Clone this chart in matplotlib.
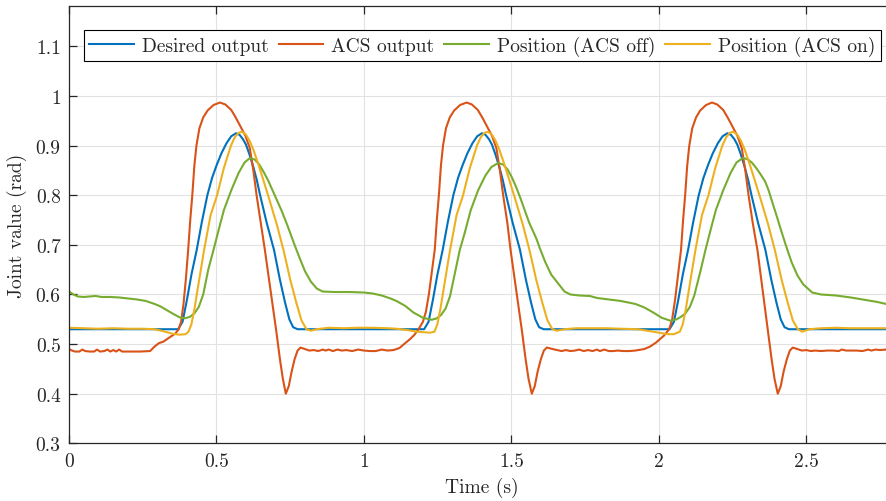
import numpy as np
import matplotlib
matplotlib.use('Agg')
import matplotlib.pyplot as plt

## values (time in s, joint value in rad)
t_desired = [0.0, 0.37, 0.385, 0.40, 0.415, 0.433, 0.45, 0.469, 0.485, 0.50, 0.517, 0.534, 0.55, 0.566, 0.578, 0.59, 0.60, 0.612, 0.625, 0.637, 0.648, 0.67, 0.695, 0.715, 0.732, 0.747, 0.76, 0.775,
             1.204, 1.219, 1.234, 1.249, 1.267, 1.284, 1.303, 1.319, 1.334, 1.351, 1.368, 1.384, 1.40, 1.412, 1.424, 1.434, 1.446, 1.459, 1.471, 1.482, 1.504, 1.529, 1.549, 1.566, 1.581, 1.594, 1.609,
             2.036, 2.051, 2.066, 2.081, 2.099, 2.116, 2.135, 2.151, 2.166, 2.183, 2.20, 2.216, 2.232, 2.244, 2.256, 2.266, 2.278, 2.291, 2.303, 2.314, 2.336, 2.361, 2.381, 2.398, 2.413, 2.426, 2.441, 2.77]
y_desired = [0.530, 0.530, 0.545, 0.59, 0.64, 0.69, 0.745, 0.80, 0.835, 0.86, 0.885, 0.905, 0.919, 0.925, 0.922, 0.913, 0.902, 0.882, 0.857, 0.83, 0.80, 0.745, 0.69, 0.63, 0.585, 0.55, 0.534, 0.530,
             0.530, 0.545, 0.59, 0.64, 0.69, 0.745, 0.80, 0.835, 0.86, 0.885, 0.905, 0.919, 0.925, 0.922, 0.913, 0.902, 0.882, 0.857, 0.83, 0.80, 0.745, 0.69, 0.63, 0.585, 0.55, 0.534, 0.530,
             0.530, 0.545, 0.59, 0.64, 0.69, 0.745, 0.80, 0.835, 0.86, 0.885, 0.905, 0.919, 0.925, 0.922, 0.913, 0.902, 0.882, 0.857, 0.83, 0.80, 0.745, 0.69, 0.63, 0.585, 0.55, 0.534, 0.530, 0.530]

t_acs = [0.0, 0.01, 0.02, 0.035, 0.045, 0.055, 0.07, 0.085, 0.095, 0.105, 0.12, 0.13, 0.14, 0.15, 0.16, 0.17, 0.18, 0.20, 0.24, 0.275,
         0.29, 0.305, 0.32, 0.342, 0.36, 0.372, 0.38, 0.388, 0.396, 0.404, 0.411, 0.418, 0.425, 0.432, 0.442, 0.455, 0.47, 0.49, 0.512,
         0.53, 0.55, 0.565, 0.58, 0.598, 0.613, 0.625, 0.636, 0.65, 0.664, 0.677, 0.69, 0.703, 0.715, 0.725, 0.735, 0.745, 0.755, 0.765, 0.775, 0.785,
         0.80, 0.815, 0.83, 0.845, 0.86, 0.87, 0.88, 0.895, 0.91, 0.925, 0.94, 0.96, 0.98, 1.00, 1.02, 1.04, 1.06, 1.08, 1.10,
         1.12, 1.14, 1.156, 1.17, 1.185, 1.20, 1.21, 1.22, 1.23, 1.24, 1.247, 1.254, 1.261, 1.268, 1.278, 1.291, 1.306, 1.326, 1.348,
         1.366, 1.386, 1.401, 1.416, 1.434, 1.449, 1.461, 1.472, 1.486, 1.497, 1.51, 1.523, 1.536, 1.548, 1.558, 1.569, 1.579, 1.589, 1.60, 1.61, 1.62,
         1.64, 1.655, 1.67, 1.685, 1.70, 1.715, 1.73, 1.745, 1.76, 1.775, 1.79, 1.80, 1.815, 1.83, 1.845, 1.86, 1.88, 1.90, 1.92,
         1.95, 1.97, 1.99, 2.017, 2.035, 2.045, 2.055, 2.065, 2.075, 2.082, 2.089, 2.096, 2.103, 2.113, 2.126, 2.14, 2.16, 2.18,
         2.198, 2.218, 2.233, 2.248, 2.266, 2.281, 2.293, 2.304, 2.318, 2.334, 2.346, 2.358, 2.37, 2.382, 2.392, 2.403, 2.413, 2.423, 2.434, 2.444, 2.454,
         2.47, 2.485, 2.50, 2.515, 2.53, 2.55, 2.57, 2.59, 2.61, 2.62, 2.635, 2.65, 2.67, 2.69, 2.71, 2.72, 2.735, 2.75, 2.77]
y_acs = [0.490, 0.487, 0.485, 0.485, 0.489, 0.486, 0.485, 0.485, 0.489, 0.485, 0.486, 0.489, 0.485, 0.488, 0.485, 0.489, 0.485, 0.485, 0.485, 0.486,
         0.495, 0.502, 0.505, 0.514, 0.521, 0.530, 0.545, 0.58, 0.63, 0.69, 0.75, 0.80, 0.86, 0.90, 0.935, 0.957, 0.971, 0.982, 0.987,
         0.983, 0.972, 0.957, 0.94, 0.92, 0.895, 0.85, 0.80, 0.745, 0.69, 0.635, 0.58, 0.525, 0.47, 0.43, 0.40, 0.415, 0.445, 0.47, 0.487, 0.493,
         0.490, 0.487, 0.488, 0.486, 0.489, 0.487, 0.489, 0.486, 0.489, 0.487, 0.488, 0.486, 0.489, 0.487, 0.486, 0.486, 0.489, 0.487, 0.488,
         0.492, 0.502, 0.510, 0.518, 0.530, 0.545, 0.565, 0.60, 0.645, 0.69, 0.75, 0.80, 0.86, 0.90, 0.935, 0.957, 0.971, 0.982, 0.987,
         0.983, 0.972, 0.957, 0.94, 0.92, 0.895, 0.85, 0.80, 0.745, 0.69, 0.635, 0.58, 0.525, 0.47, 0.43, 0.40, 0.415, 0.445, 0.47, 0.487, 0.493,
         0.490, 0.488, 0.486, 0.488, 0.486, 0.487, 0.489, 0.486, 0.488, 0.486, 0.489, 0.486, 0.489, 0.486, 0.486, 0.487, 0.486, 0.486, 0.487,
         0.490, 0.495, 0.503, 0.517, 0.530, 0.55, 0.59, 0.64, 0.69, 0.75, 0.80, 0.86, 0.90, 0.935, 0.957, 0.971, 0.982, 0.987,
         0.983, 0.972, 0.957, 0.94, 0.92, 0.895, 0.85, 0.80, 0.745, 0.69, 0.635, 0.58, 0.525, 0.47, 0.43, 0.40, 0.415, 0.445, 0.47, 0.487, 0.493,
         0.490, 0.487, 0.488, 0.486, 0.487, 0.486, 0.487, 0.487, 0.486, 0.489, 0.487, 0.487, 0.487, 0.486, 0.489, 0.487, 0.489, 0.488, 0.489]

t_off = [0.0, 0.015, 0.03, 0.05, 0.07, 0.09, 0.11, 0.14, 0.17, 0.20, 0.23, 0.26, 0.29, 0.31, 0.33, 0.353, 0.375, 0.393,
         0.41, 0.425, 0.44, 0.455, 0.472, 0.49, 0.505, 0.525, 0.55, 0.575, 0.595, 0.613, 0.63, 0.645, 0.66, 0.675, 0.69, 0.705, 0.72,
         0.74, 0.766, 0.783, 0.80, 0.82, 0.84, 0.86, 0.90, 0.95, 1.00, 1.03, 1.06, 1.09, 1.11, 1.14, 1.167, 1.20, 1.23,
         1.247, 1.262, 1.277, 1.292, 1.309, 1.325, 1.342, 1.362, 1.387, 1.412, 1.432, 1.455, 1.472, 1.487, 1.50, 1.515, 1.53, 1.545,
         1.56, 1.573, 1.585, 1.597, 1.615, 1.635, 1.664, 1.68, 1.70, 1.73, 1.766, 1.79, 1.83, 1.87, 1.92, 1.95, 1.98, 2.01, 2.04,
         2.06, 2.075, 2.09, 2.105, 2.12, 2.14, 2.158, 2.173, 2.193, 2.218, 2.243, 2.263, 2.284, 2.30, 2.315, 2.33, 2.345, 2.36,
         2.372, 2.385, 2.40, 2.415, 2.43, 2.45, 2.47, 2.49, 2.52, 2.55, 2.60, 2.65, 2.70, 2.74, 2.77]
y_off = [0.606, 0.600, 0.596, 0.595, 0.596, 0.597, 0.595, 0.595, 0.594, 0.592, 0.590, 0.587, 0.581, 0.576, 0.569, 0.561, 0.554, 0.552,
         0.555, 0.562, 0.575, 0.60, 0.65, 0.69, 0.725, 0.77, 0.81, 0.845, 0.866, 0.875, 0.872, 0.862, 0.847, 0.83, 0.81, 0.79, 0.77,
         0.74, 0.698, 0.672, 0.647, 0.626, 0.612, 0.606, 0.605, 0.605, 0.604, 0.602, 0.598, 0.592, 0.587, 0.577, 0.564, 0.553, 0.549,
         0.552, 0.559, 0.572, 0.597, 0.645, 0.69, 0.725, 0.77, 0.81, 0.84, 0.857, 0.865, 0.862, 0.852, 0.838, 0.818, 0.795, 0.77,
         0.745, 0.728, 0.712, 0.692, 0.665, 0.64, 0.618, 0.606, 0.600, 0.598, 0.597, 0.593, 0.590, 0.587, 0.581, 0.574, 0.564, 0.553, 0.547,
         0.550, 0.555, 0.562, 0.575, 0.598, 0.645, 0.69, 0.725, 0.77, 0.81, 0.845, 0.866, 0.875, 0.873, 0.866, 0.855, 0.842, 0.828,
         0.81, 0.785, 0.757, 0.728, 0.70, 0.665, 0.638, 0.62, 0.604, 0.600, 0.598, 0.594, 0.589, 0.585, 0.581]

t_on = [0.0, 0.05, 0.10, 0.15, 0.20, 0.25, 0.29, 0.32, 0.35, 0.375, 0.395, 0.405, 0.415, 0.425, 0.44, 0.458, 0.48, 0.502, 0.525, 0.549,
        0.562, 0.575, 0.587, 0.60, 0.612, 0.625, 0.64, 0.655, 0.68, 0.705, 0.727, 0.75, 0.77, 0.788, 0.805, 0.82, 0.84, 0.88, 0.93, 0.98, 1.03, 1.08, 1.11,
        1.15, 1.18, 1.20, 1.225, 1.239, 1.249, 1.259, 1.274, 1.292, 1.314, 1.336, 1.359, 1.383, 1.396, 1.409, 1.421, 1.434, 1.446, 1.459, 1.474, 1.489,
        1.514, 1.539, 1.561, 1.584, 1.604, 1.622, 1.639, 1.654, 1.68, 1.72, 1.77, 1.82, 1.87, 1.93, 1.96, 2.0, 2.03, 2.05, 2.071,
        2.081, 2.091, 2.106, 2.124, 2.146, 2.168, 2.191, 2.215, 2.228, 2.241, 2.253, 2.266, 2.278, 2.291, 2.306, 2.321, 2.346, 2.371, 2.393, 2.416,
        2.436, 2.454, 2.471, 2.486, 2.51, 2.55, 2.60, 2.65, 2.70, 2.77]
y_on = [0.533, 0.532, 0.531, 0.532, 0.531, 0.531, 0.530, 0.526, 0.521, 0.519, 0.520, 0.525, 0.54, 0.57, 0.625, 0.69, 0.76, 0.80, 0.855, 0.90,
        0.917, 0.926, 0.928, 0.922, 0.91, 0.892, 0.866, 0.838, 0.79, 0.74, 0.69, 0.63, 0.585, 0.548, 0.530, 0.527, 0.530, 0.533, 0.532, 0.533, 0.533, 0.532, 0.531,
        0.528, 0.525, 0.524, 0.523, 0.525, 0.54, 0.57, 0.625, 0.69, 0.76, 0.80, 0.855, 0.90, 0.917, 0.926, 0.928, 0.922, 0.91, 0.892, 0.866, 0.838,
        0.79, 0.74, 0.69, 0.63, 0.585, 0.548, 0.530, 0.527, 0.530, 0.532, 0.532, 0.532, 0.531, 0.530, 0.527, 0.523, 0.520, 0.520, 0.525,
        0.54, 0.57, 0.625, 0.69, 0.76, 0.80, 0.855, 0.90, 0.917, 0.926, 0.928, 0.922, 0.91, 0.892, 0.866, 0.838, 0.79, 0.74, 0.69, 0.63,
        0.585, 0.548, 0.530, 0.525, 0.530, 0.532, 0.533, 0.532, 0.532, 0.532]

labels = ['Desired output', 'ACS output', 'Position (ACS off)', 'Position (ACS on)']
colors = ['#0072BD', '#D95319', '#77AC30', '#EDB120']  # matlab default colours
x_ticks = [0, 0.5, 1, 1.5, 2, 2.5]
x_ticklabels = ['0', '0.5', '1', '1.5', '2', '2.5']
y_ticks = [0.3, 0.4, 0.5, 0.6, 0.7, 0.8, 0.9, 1.0, 1.1]
y_ticklabels = ['0.3', '0.4', '0.5', '0.6', '0.7', '0.8', '0.9', '1', '1.1']

plt.rcParams['font.family'] = ['cmr10', 'DejaVu Serif']
plt.rcParams['mathtext.fontset'] = 'cm'
plt.rcParams['axes.formatter.use_mathtext'] = True
plt.rcParams['font.size'] = 14

axcol = '#262626'
fig = plt.figure(figsize=(8.86, 5.02), dpi=100)
ax = fig.add_axes([0.0779, 0.1149, 0.9221, 0.8706])

series = [(t_desired, y_desired), (t_acs, y_acs), (t_off, y_off), (t_on, y_on)]
for (t, y), lab, col in zip(series, labels, colors):
    ax.plot(t, y, color=col, lw=1.5, label=lab)

ax.set_xlim(0, 2.77)
ax.set_ylim(0.3, 1.181)
ax.set_xticks(x_ticks)
ax.set_xticklabels(x_ticklabels)
ax.set_yticks(y_ticks)
ax.set_yticklabels(y_ticklabels)
ax.grid(True, color='#e2e2e2', lw=0.8)
ax.set_axisbelow(True)
ax.tick_params(direction='in', length=6, width=0.9, color=axcol, labelcolor=axcol, top=True, pad=6)
for s in ['left', 'bottom', 'top']:
    ax.spines[s].set_color(axcol)
    ax.spines[s].set_linewidth(0.9)
ax.spines['right'].set_visible(False)

ax.set_xlabel('Time (s)', color=axcol)
ax.set_ylabel('Joint value (rad)', color=axcol)
ax.xaxis.set_label_coords(0.505, -0.077)
ax.yaxis.set_label_coords(-0.051, 0.5)

leg = ax.legend(loc='center', bbox_to_anchor=(0.506, 0.91), ncol=4, frameon=True, fancybox=False,
                handlelength=2.3, handletextpad=0.42, columnspacing=0.5, borderpad=0.28, framealpha=1)
leg.get_frame().set_edgecolor('black')
leg.get_frame().set_linewidth(0.8)
for txt in leg.get_texts():
    txt.set_color(axcol)

fig.savefig('out.png', dpi=100)
